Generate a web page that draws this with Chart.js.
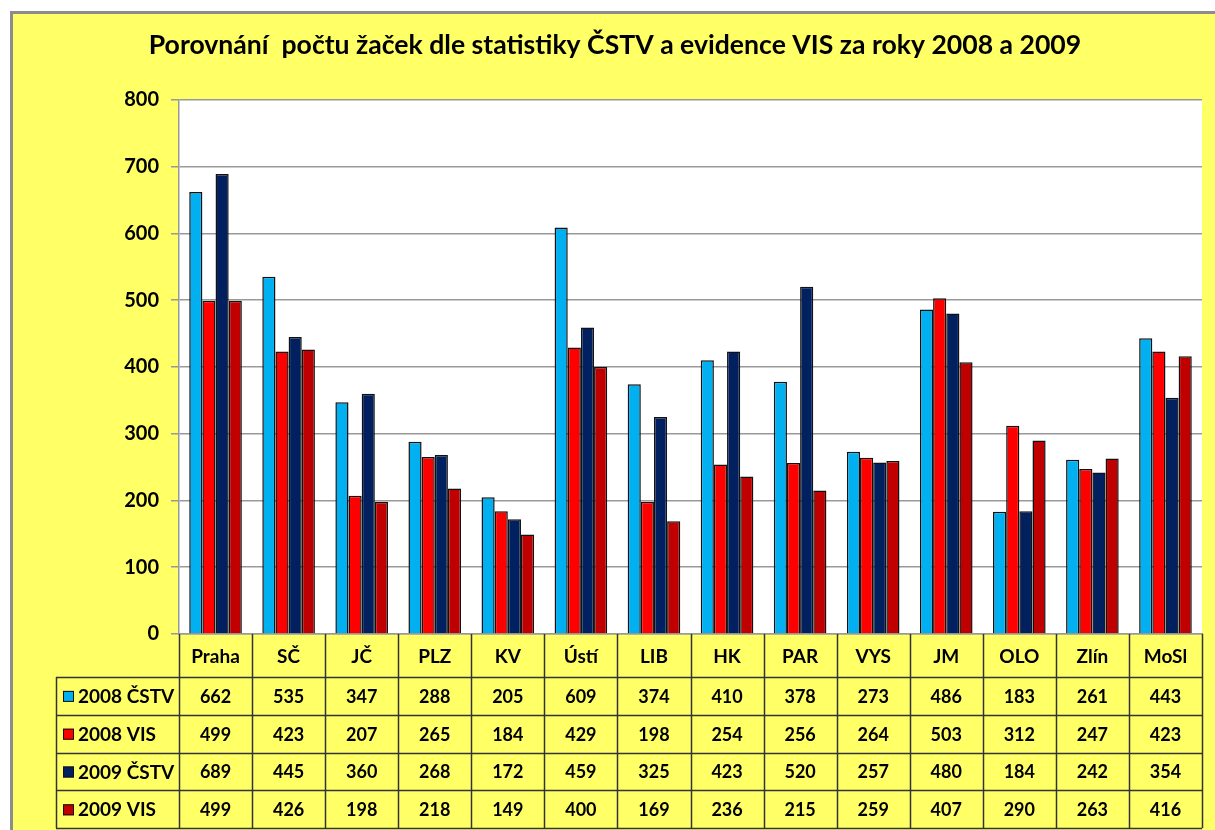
<!DOCTYPE html>
<html>
<head>
<meta charset="utf-8">
<title>Porovnání počtu žaček</title>
<script src="https://cdn.jsdelivr.net/npm/chart.js@4/dist/chart.umd.min.js"></script>
<style>
  body { margin: 0; background: #fff; }
  canvas { display: block; }
</style>
</head>
<body>
<canvas id="zacky" width="1215" height="830"></canvas>
<script>
/* data */
const regions = ['Praha', 'SČ', 'JČ', 'PLZ', 'KV', 'Ústí', 'LIB', 'HK', 'PAR', 'VYS', 'JM', 'OLO', 'Zlín', 'MoSl'];
const cstv2008 = [662, 535, 347, 288, 205, 609, 374, 410, 378, 273, 486, 183, 261, 443];
const vis2008  = [499, 423, 207, 265, 184, 429, 198, 254, 256, 264, 503, 312, 247, 423];
const cstv2009 = [689, 445, 360, 268, 172, 459, 325, 423, 520, 257, 480, 184, 242, 354];
const vis2009  = [499, 426, 198, 218, 149, 400, 169, 236, 215, 259, 407, 290, 263, 416];
const seriesNames = ['2008 ČSTV', '2008 VIS', '2009 ČSTV', '2009 VIS'];
const yTicks = [0, 100, 200, 300, 400, 500, 600, 700, 800];

const colors = ['#00B0F0', '#FF0000', '#002060', '#C00000'];
const font = 'Lato, "Open Sans", sans-serif';

/* yellow Excel frame behind everything */
const frame = {
  id: 'frame',
  beforeDraw(chart) {
    const ctx = chart.ctx;
    const a = chart.chartArea;
    ctx.save();
    ctx.fillStyle = '#ffffff';
    ctx.fillRect(0, 0, chart.width, chart.height);
    ctx.fillStyle = '#FFFF66';
    ctx.fillRect(11, 12, chart.width - 11, chart.height - 12);
    ctx.strokeStyle = '#8c8c8c';
    ctx.lineWidth = 3;
    ctx.beginPath();
    ctx.moveTo(11.5, chart.height);
    ctx.lineTo(11.5, 12.5);
    ctx.lineTo(chart.width, 12.5);
    ctx.stroke();
    ctx.fillStyle = '#ffffff';
    ctx.fillRect(a.left, a.top, a.right - a.left, a.bottom - a.top);
    ctx.restore();
  }
};

/* data table below the plot, columns follow the x scale */
const dataTable = {
  id: 'dataTable',
  afterDraw(chart) {
    const ctx = chart.ctx;
    const x = chart.scales.x;
    const a = chart.chartArea;
    const n = regions.length;
    const colW = x.width / n;
    const headH = 43;
    const rowH = 37.8;
    const tableLeft = 56;
    const rows = chart.data.datasets;

    ctx.save();
    ctx.strokeStyle = '#333333';
    ctx.lineWidth = 1.5;

    // horizontal lines
    for (let r = 0; r <= rows.length; r++) {
      const y = Math.round(a.bottom + headH + r * rowH) + 0.5;
      ctx.beginPath();
      ctx.moveTo(tableLeft, y);
      ctx.lineTo(a.right, y);
      ctx.stroke();
    }
    // vertical lines
    ctx.beginPath();
    ctx.moveTo(tableLeft + 0.5, a.bottom + headH);
    ctx.lineTo(tableLeft + 0.5, a.bottom + headH + rows.length * rowH);
    ctx.stroke();
    for (let i = 0; i <= n; i++) {
      const xx = Math.round(x.left + i * colW) + 0.5;
      ctx.beginPath();
      ctx.moveTo(xx, a.bottom);
      ctx.lineTo(xx, a.bottom + headH + rows.length * rowH);
      ctx.stroke();
    }

    ctx.fillStyle = '#000';
    ctx.textAlign = 'center';
    ctx.textBaseline = 'middle';
    ctx.font = 'bold 19px ' + font;
    regions.forEach((name, i) => {
      ctx.fillText(name, x.getPixelForValue(i), a.bottom + headH / 2 + 1);
    });

    rows.forEach((ds, r) => {
      const cy = a.bottom + headH + (r + 0.5) * rowH + 1;
      // legend key
      ctx.fillStyle = ds.backgroundColor;
      ctx.fillRect(63, cy - 6, 11, 11);
      ctx.strokeStyle = '#111';
      ctx.lineWidth = 1;
      ctx.strokeRect(63.5, cy - 5.5, 10, 10);
      ctx.fillStyle = '#000';
      ctx.textAlign = 'left';
      ctx.font = 'bold 19px ' + font;
      ctx.fillText(ds.label, 78, cy);
      ctx.textAlign = 'center';
      ctx.font = 'bold 18px ' + font;
      ds.data.forEach((v, i) => {
        ctx.fillText(String(v), x.getPixelForValue(i), cy);
      });
    });
    ctx.restore();
  }
};

const chart = new Chart(document.getElementById('zacky'), {
  type: 'bar',
  data: {
    labels: regions,
    datasets: [cstv2008, vis2008, cstv2009, vis2009].map((d, k) => ({
      label: seriesNames[k],
      data: d,
      backgroundColor: colors[k],
      borderColor: '#111111',
      borderWidth: 1.5,
      barPercentage: 1,
      categoryPercentage: 0.72
    }))
  },
  options: {
    responsive: false,
    animation: false,
    devicePixelRatio: 1,
    layout: { padding: { left: 28, right: 13, top: 0, bottom: 0 } },
    plugins: {
      legend: { display: false },
      tooltip: { enabled: false },
      title: {
        display: true,
        text: 'Porovnání  počtu žaček dle statistiky ČSTV a evidence VIS za roky 2008 a 2009',
        color: '#000',
        font: { family: font, size: 26.6, weight: 'bold' },
        padding: { top: 29, bottom: 39 }
      }
    },
    scales: {
      x: {
        grid: { display: false },
        border: { display: true, color: '#999999', width: 1.5 },
        ticks: { display: false },
        afterFit(scale) { scale.height = 196; }
      },
      y: {
        min: 0,
        max: 800,
        afterBuildTicks(scale) { scale.ticks = yTicks.map(v => ({ value: v })); },
        afterFit(scale) { scale.width = 151; },
        grid: { color: '#999999', lineWidth: 1.5, tickLength: 8 },
        border: { display: true, color: '#999999', width: 1.5 },
        ticks: {
          color: '#000',
          padding: 12,
          font: { family: font, size: 20, weight: 'bold' }
        }
      }
    }
  },
  plugins: [frame, dataTable]
});
</script>
</body>
</html>
